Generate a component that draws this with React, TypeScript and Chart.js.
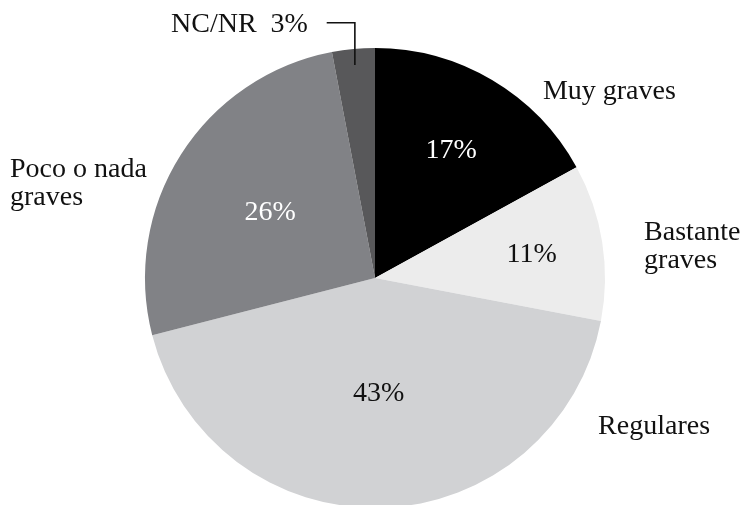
import React, { useEffect, useRef } from "react";
import { Chart, registerables } from "chart.js";

Chart.register(...registerables);

const categories = ["Muy graves", "Bastante graves", "Regulares", "Poco o nada graves", "NC/NR"];
const values = [17, 11, 43, 26, 3];
const colors = ["#000000", "#ececec", "#d1d2d4", "#818286", "#58585a"];
const percentColors = ["#ffffff", "#111111", "#111111", "#ffffff", ""];
// outside label lines (text only)
const outsideLines = [["Muy graves"], ["Bastante", "graves"], ["Regulares"], ["Poco o nada", "graves"], ["NC/NR  3%"]];

const FONT = '28px "Liberation Serif", "DejaVu Serif", serif';

const labelPlugin = {
  id: "pieLabels",
  afterDatasetsDraw(chart: any) {
    const ctx = chart.ctx;
    const meta = chart.getDatasetMeta(0);
    const arcs = meta.data;
    if (!arcs.length) return;
    const cx = arcs[0].x;
    const cy = arcs[0].y;
    const R = arcs[0].outerRadius;
    // radial fraction for inside percentage labels
    const insideFrac = [0.65, 0.69, 0.5, 0.54, 0];
    // outside label anchors in units of radius (left x, first baseline y)
    const outAnchor = [
      [0.73, -0.78],
      [1.17, -0.165],
      [0.97, 0.68],
      [-1.587, -0.438],
      [-0.887, -1.07],
    ];
    ctx.save();
    ctx.font = FONT;
    arcs.forEach((arc: any, i: number) => {
      const mid = (arc.startAngle + arc.endAngle) / 2;
      if (insideFrac[i] > 0) {
        const r = R * insideFrac[i];
        ctx.fillStyle = percentColors[i];
        ctx.textAlign = "center";
        ctx.textBaseline = "middle";
        ctx.fillText(values[i] + "%", cx + Math.cos(mid) * r, cy + Math.sin(mid) * r + 1);
      }
      ctx.fillStyle = "#111111";
      ctx.textAlign = "left";
      ctx.textBaseline = "alphabetic";
      const lx = cx + outAnchor[i][0] * R;
      const ly = cy + outAnchor[i][1] * R;
      outsideLines[i].forEach((t, k) => ctx.fillText(t, lx, ly + k * 28));
    });
    // leader line for NC/NR
    const nc = arcs[4];
    const mid = (nc.startAngle + nc.endAngle) / 2;
    const ex = cx + Math.cos(mid) * R * 0.93;
    const ey = cy + Math.sin(mid) * R * 0.93;
    const topY = cy - R * 1.11;
    ctx.strokeStyle = "#111111";
    ctx.lineWidth = 1.6;
    ctx.beginPath();
    ctx.moveTo(cx - R * 0.21, topY);
    ctx.lineTo(ex, topY);
    ctx.lineTo(ex, ey);
    ctx.stroke();
    ctx.restore();
  },
};

export default function App() {
  const ref = useRef<HTMLCanvasElement>(null);
  useEffect(() => {
    if (!ref.current) return;
    const chart = new Chart(ref.current, {
      type: "pie",
      data: {
        labels: categories,
        datasets: [
          {
            data: values,
            backgroundColor: colors,
            borderWidth: 0,
          },
        ],
      },
      options: {
        animation: false,
        responsive: false,
        maintainAspectRatio: false,
        layout: { padding: { top: 48, bottom: 48, left: 145, right: 142 } },
        plugins: {
          legend: { display: false },
          tooltip: { enabled: false },
        },
      },
      plugins: [labelPlugin],
    } as any);
    return () => chart.destroy();
  }, []);
  return (
    <div style={{ position: "fixed", left: 0, top: 0, width: 747, height: 505, overflow: "hidden", background: "#fff" }}>
      <canvas ref={ref} width={747} height={556} style={{ display: "block", width: 747, height: 556 }} />
    </div>
  );
}
